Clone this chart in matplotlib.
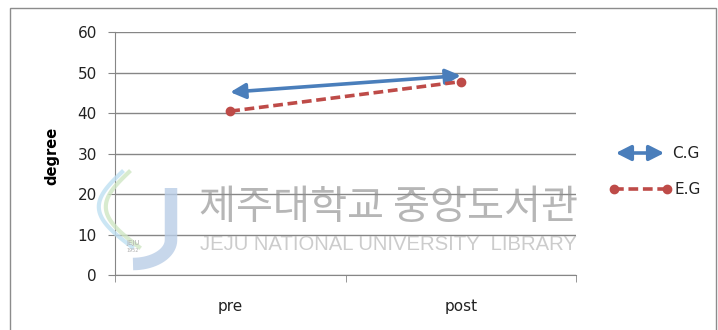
import numpy as np
import matplotlib.pyplot as plt
from matplotlib.patches import Rectangle, FancyArrowPatch
from matplotlib.lines import Line2D

phases = ['pre', 'post']
cg = [45.2, 49.3]
eg = [40.5, 47.8]
yticks = [0, 10, 20, 30, 40, 50, 60]
groups = ['C.G', 'E.G']

blue = '#4A7EBB'
red = '#BE4B48'
grid = '#868686'
W, H = 718, 330


def px(x, y):
    # pixel position (from top-left) -> figure fraction
    return x / W, 1 - y / H


fig = plt.figure(figsize=(W / 100, H / 100), dpi=100)
fig.patches.append(Rectangle(px(10, 340), 706 / W, 332 / H, transform=fig.transFigure,
                             fill=False, edgecolor='#8c8c8c', lw=1))

ax = fig.add_axes([115 / W, 55 / H, 461 / W, 242.7 / H])
x = np.arange(len(phases))

ax.annotate('', xy=(x[1], cg[1]), xytext=(x[0], cg[0]),
            arrowprops=dict(arrowstyle='<|-|>,head_length=0.75,head_width=0.38',
                            color=blue, lw=2.6, shrinkA=0, shrinkB=0,
                            mutation_scale=12), zorder=3)
ax.plot(x, eg, color=red, lw=2.6, ls=(0, (2.7, 1.3)), marker='o', ms=6,
        dash_capstyle='butt', zorder=4)

ax.set_xlim(-0.5, 1.5)
ax.set_ylim(0, 60)
ax.set_yticks(yticks)
ax.set_xticks(x)
ax.set_xticklabels(phases)
ax.set_xticks([-0.5, 0.5, 1.5], minor=True)
ax.tick_params(axis='x', which='major', length=0, pad=17, labelsize=11, labelcolor='#222222')
ax.tick_params(axis='x', which='minor', length=5, color=grid, direction='out')
ax.tick_params(axis='y', length=5, color=grid, direction='out', pad=8,
               labelsize=11, labelcolor='#222222')
ax.yaxis.grid(True, color=grid, lw=1)
ax.set_axisbelow(True)
for s in ['top', 'right']:
    ax.spines[s].set_visible(False)
for s in ['left', 'bottom']:
    ax.spines[s].set_color(grid)

fig.text(*px(52, 156), 'degree', rotation=90, fontweight='bold', fontsize=10.5,
         ha='center', va='center')

# legend
fig.patches.append(FancyArrowPatch(
    px(613, 153), px(667, 153), transform=fig.transFigure,
    arrowstyle='<|-|>,head_length=0.75,head_width=0.38', color=blue, lw=2.6,
    mutation_scale=12))
fig.lines.append(Line2D([614 / W, 667 / W], [1 - 189 / H] * 2, transform=fig.transFigure,
                        color=red, lw=2.6, ls=(0, (2.7, 1.3)), marker='o', ms=6,
                        dash_capstyle='butt'))
fig.text(*px(672, 153), groups[0], fontsize=11, va='center', color='#222222')
fig.text(*px(675, 189), groups[1], fontsize=11, va='center', color='#222222')

# library watermark
t = np.linspace(0, 1, 50)
for dx, c in [(0, '#bfe0f2'), (7, '#cfe6c4')]:
    xs = 122 + dx - 28 * np.sin(np.pi * t) + 10 * t
    ys = 172 + 75 * t
    fig.lines.append(Line2D(xs / W, 1 - ys / H, transform=fig.transFigure,
                            color=c, lw=3, alpha=0.8))
jx = np.concatenate([np.full(20, 171.0), 171 - 38 * (1 - np.cos(np.linspace(0, np.pi / 2, 20)))])
jy = np.concatenate([np.linspace(188, 240, 20), 240 + 24 * np.sin(np.linspace(0, np.pi / 2, 20))])
fig.lines.append(Line2D(jx / W, 1 - jy / H, transform=fig.transFigure,
                        color='#b9cde6', lw=9, alpha=0.8, solid_capstyle='butt'))
fig.text(*px(133, 243), 'JEJU', fontsize=5, color='#b0b0b0', ha='center', va='center')
fig.text(*px(133, 251), '1952', fontsize=3.5, color='#b0b0b0', ha='center', va='center')
fig.text(*px(199, 208), '제주대학교 중앙도서관', fontsize=29, color='#8f8f8f', alpha=0.65,
         family=['Noto Sans CJK KR', 'DejaVu Sans'], ha='left', va='center')
fig.text(*px(200, 245), 'JEJU NATIONAL UNIVERSITY  LIBRARY', fontsize=14.6, color='#c0c0c0',
         alpha=0.8, family='Liberation Sans', ha='left', va='center')

fig.savefig('out.png', dpi=100)
